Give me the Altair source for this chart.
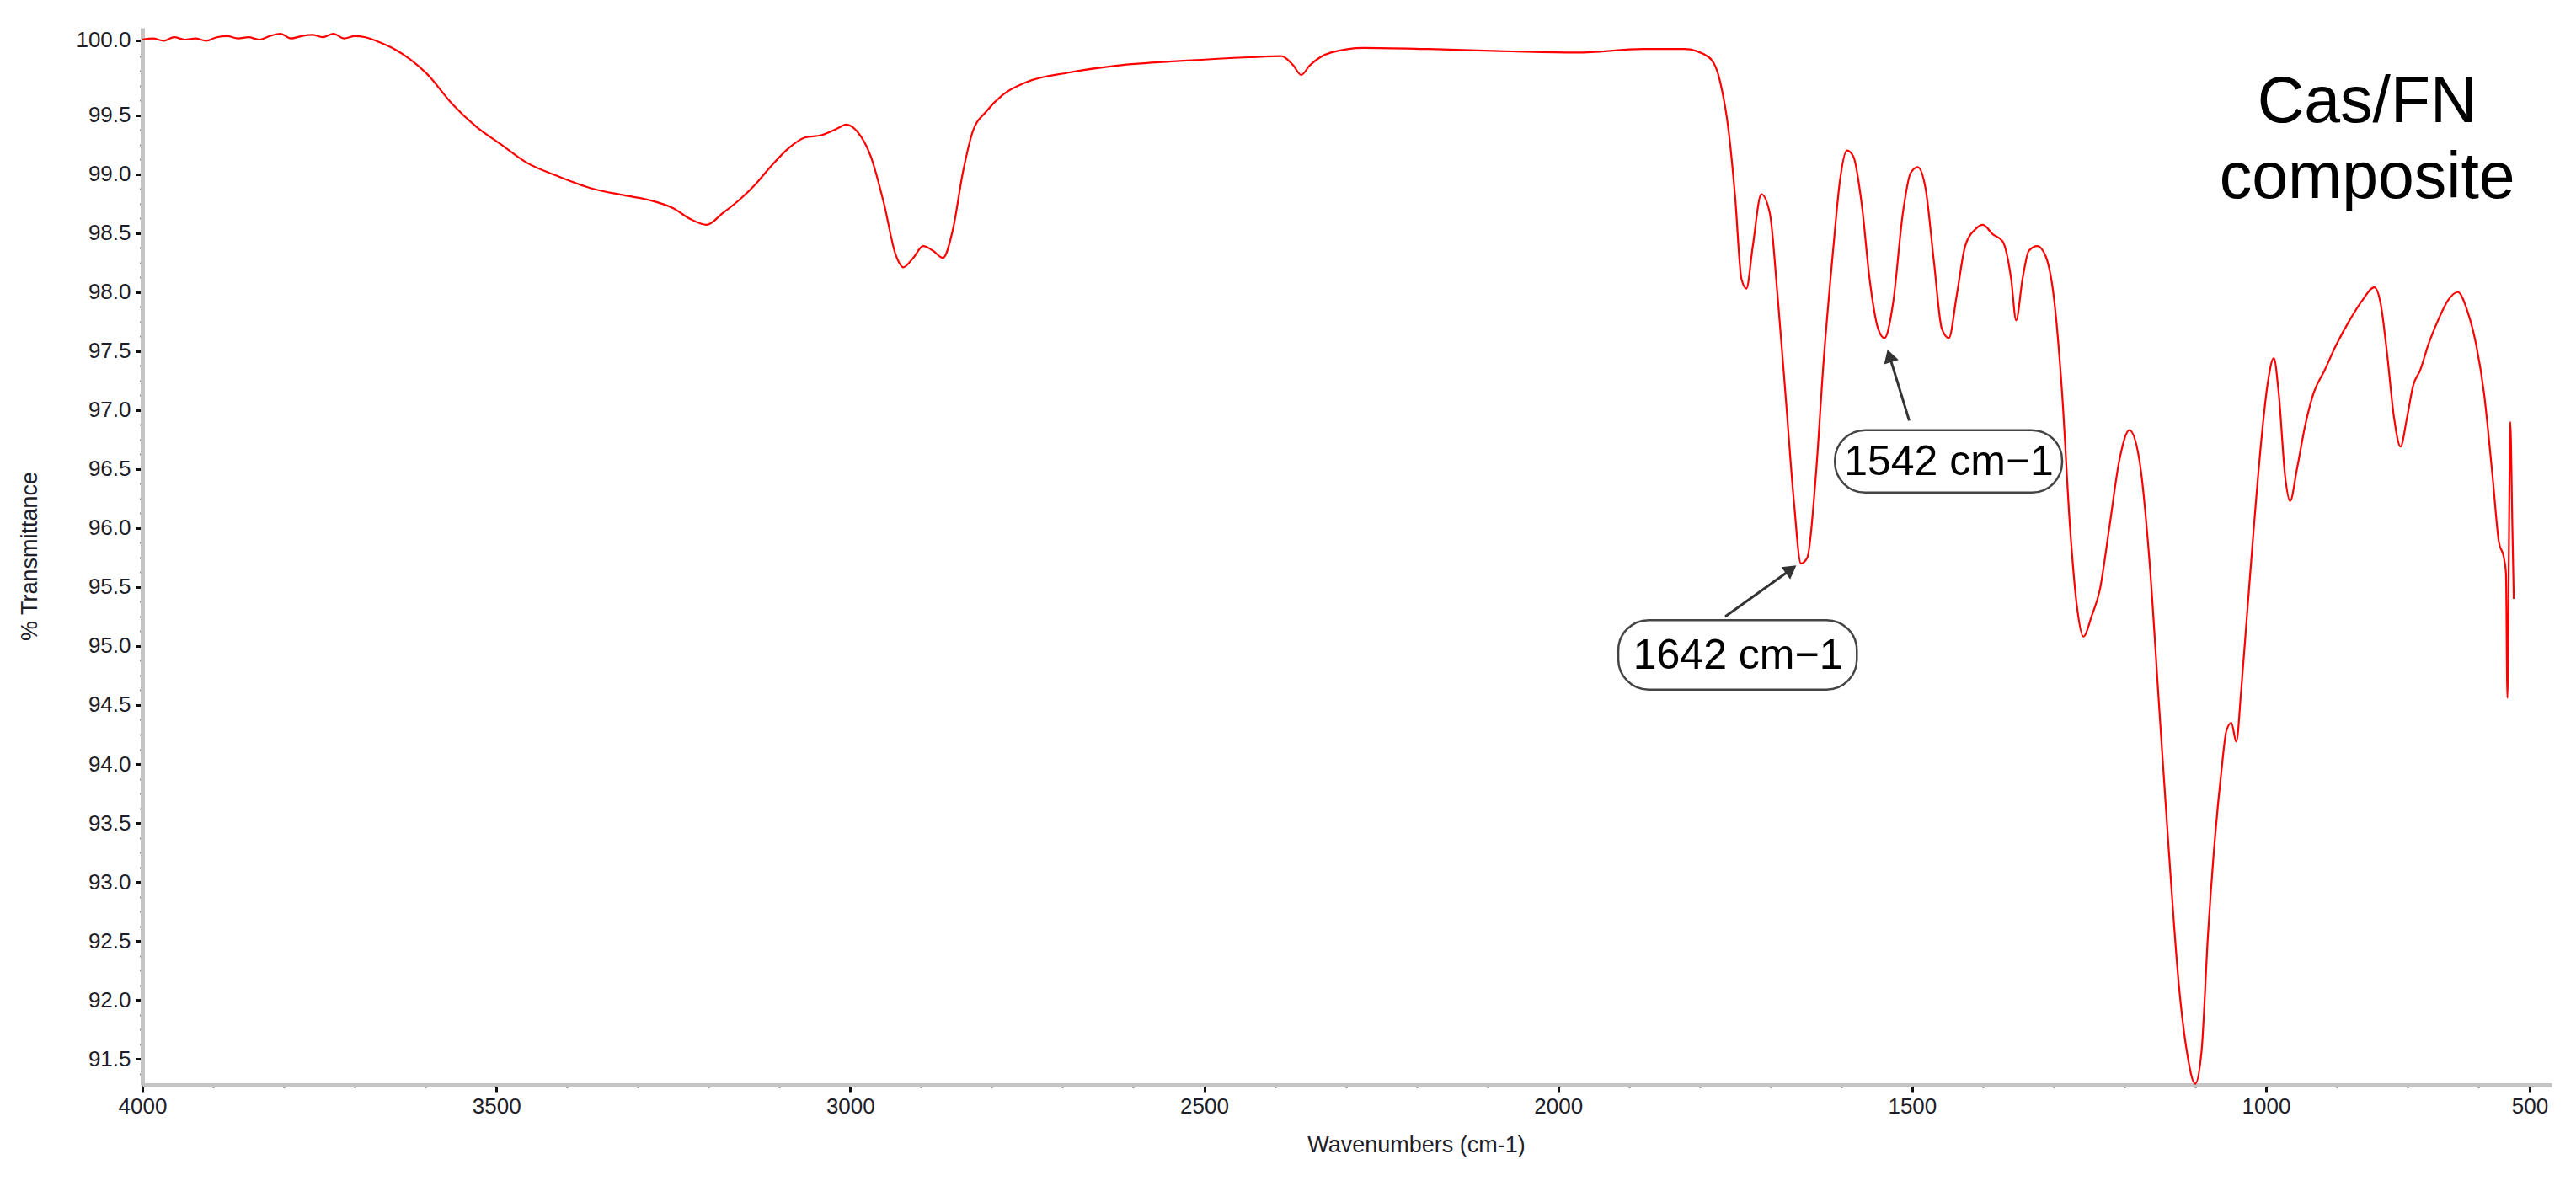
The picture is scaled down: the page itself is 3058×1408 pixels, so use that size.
import altair as alt
import pandas as pd

# ---- spectrum (wavenumber cm-1, % transmittance) ----
wavenumber = [4000, 3985, 3970, 3955, 3940, 3925, 3910, 3895, 3880, 3865, 3850, 3835, 3820, 3805,
              3790, 3775, 3760, 3745, 3730, 3715, 3700, 3685, 3670,
              3644, 3621, 3598, 3563, 3528, 3493, 3458, 3412, 3366, 3319, 3284, 3250, 3226, 3203,
              3180, 3157, 3133, 3110, 3087, 3064, 3041, 3017, 3006, 2990, 2971, 2952, 2936, 2925,
              2911, 2897, 2883, 2869, 2855, 2841, 2827, 2808, 2785, 2751, 2692, 2623, 2530, 2437,
              2391, 2374, 2363, 2351, 2321, 2275, 2182, 2066, 1973, 1880, 1822, 1787, 1771, 1759,
              1750, 1741, 1734, 1725, 1713, 1701, 1690, 1678, 1667, 1657, 1648, 1636, 1625, 1611,
              1602, 1592, 1583, 1571, 1560, 1548, 1539, 1527, 1513, 1502, 1492, 1481, 1469, 1458,
              1448, 1437, 1425, 1411, 1400, 1386, 1372, 1360, 1353, 1344, 1335, 1323, 1311, 1300,
              1288, 1277, 1267, 1258, 1246, 1235, 1221, 1207, 1193, 1179, 1165, 1151, 1137, 1123,
              1112, 1100, 1091, 1082, 1072, 1063, 1056, 1049, 1042, 1035, 1026, 1017, 1007, 998,
              989, 982, 973, 966, 956, 945, 933, 917, 901, 882, 864, 847, 838, 829, 819, 810,
              801, 792, 782, 771, 757, 743, 729, 715, 703, 692, 680, 671, 664, 661, 659, 657,
              655, 652, 650]
transmittance = [100.14, 100.15, 100.13, 100.16, 100.14, 100.15, 100.13, 100.16, 100.17, 100.15, 100.16, 100.14, 100.17, 100.19,
                 100.15, 100.17, 100.18, 100.16, 100.19, 100.15, 100.17, 100.16, 100.13,
                 100.06, 99.97, 99.85, 99.60, 99.40, 99.25, 99.10, 98.98, 98.88, 98.82, 98.78, 98.71, 98.62, 98.57,
                 98.67, 98.78, 98.92, 99.08, 99.22, 99.31, 99.33, 99.39, 99.42, 99.36, 99.15, 98.74, 98.32, 98.21,
                 98.29, 98.39, 98.35, 98.29, 98.53, 99.01, 99.36, 99.53, 99.67, 99.78, 99.86, 99.92, 99.96, 99.99,
                 100.00, 99.92, 99.84, 99.92, 100.03, 100.07, 100.06, 100.04, 100.03, 100.06, 100.06, 99.99, 99.78, 99.36,
                 98.81, 98.11, 98.03, 98.39, 98.83, 98.67, 97.97, 97.07, 96.23, 95.70, 95.75, 96.44, 97.41, 98.39,
                 98.94, 99.20, 99.15, 98.74, 98.11, 97.69, 97.61, 97.90, 98.67, 99.01, 99.06, 98.88, 98.25, 97.69,
                 97.61, 97.97, 98.39, 98.53, 98.57, 98.49, 98.43, 98.11, 97.76, 98.11, 98.35, 98.39, 98.30, 97.97,
                 97.14, 96.02, 95.33, 95.08, 95.26, 95.47, 96.02, 96.58, 96.83, 96.58, 95.75, 94.49, 93.24, 92.12,
                 91.57, 91.29, 91.57, 92.55, 93.38, 93.94, 94.28, 94.35, 94.19, 94.63, 95.33, 96.02, 96.72, 97.21,
                 97.44, 97.14, 96.44, 96.23, 96.51, 96.86, 97.14, 97.34, 97.55, 97.76, 97.93, 98.04, 97.90, 97.48, 96.93, 96.69,
                 96.93, 97.21, 97.34, 97.55, 97.76, 97.93, 98.00, 97.83, 97.55, 97.14, 96.44, 95.88, 95.75, 95.61, 94.56, 95.75,
                 96.90, 96.02, 95.40]

# ---- axis ticks ----
x_end_value = 627.5          # right end tick, labelled "500" in the original
x_minor = [v for v in range(4000, 650, -100)]
y_top_value = 100.135        # top end tick, labelled "100.0" in the original
y_minor = [91.375 + 0.125 * i for i in range(70)]

X_DOMAIN = [596.6, 4000]
Y_DOMAIN = [91.28, 100.24]

# ---- annotations ----
ann_text = ["1642 cm\u22121", "1542 cm\u22121"]
ann_x = [1746, 1448]
ann_y = [94.93, 96.57]
box_x1 = [1915, 1609]
box_x2 = [1578, 1288]
box_y1 = [95.22, 96.83]
box_y2 = [94.63, 96.30]
arrow_tail_x = [1764, 1504]
arrow_tail_y = [95.25, 96.91]
arrow_head_x = [1671, 1532]
arrow_head_y = [95.65, 97.46]
arrow_angle = [54, 343]

title_lines = ["Cas/FN", "composite"]
title_x = [857, 857]
title_y = [99.44, 98.80]

spec = pd.DataFrame({"x": wavenumber, "y": transmittance})
ann = pd.DataFrame({"label": ann_text, "x": ann_x, "y": ann_y,
                    "bx1": box_x1, "bx2": box_x2, "by1": box_y1, "by2": box_y2,
                    "tx": arrow_tail_x, "ty": arrow_tail_y, "hx": arrow_head_x, "hy": arrow_head_y,
                    "ang": arrow_angle})
ttl = pd.DataFrame({"t": title_lines, "x": title_x, "y": title_y})

xs = alt.Scale(domain=X_DOMAIN, reverse=True, zero=False, nice=False)
ys = alt.Scale(domain=Y_DOMAIN, zero=False, nice=False)

is_major_x = "datum.value % 500 == 0 || datum.value < 650"
is_major_y = "(datum.value * 2 == floor(datum.value * 2) && datum.value < 99.9) || datum.value > 100.05"

x_axis = alt.Axis(
    values=x_minor + [x_end_value],
    labelExpr="datum.value < 650 ? '500' : (datum.value % 500 == 0 ? format(datum.value, 'd') : '')",
    title="Wavenumbers (cm-1)", titleX=1512, titleY=71, titleAlign="center", titleBaseline="middle",
    tickSize={"condition": {"test": is_major_x, "value": 8}, "value": 3},
    tickWidth={"condition": {"test": is_major_x, "value": 3}, "value": 2},
    labelPadding=4, grid=False, labelOverlap=False, labelFlush=False, labelBound=False,
)
y_axis = alt.Axis(
    values=y_minor + [y_top_value],
    labelExpr="datum.value > 100.05 ? '100.0' : ((datum.value * 2 == floor(datum.value * 2) && datum.value < 99.9) ? format(datum.value, '.1f') : '')",
    title="% Transmittance", titleX=-134, titleY=627, titleAngle=-90, titleAlign="center", titleBaseline="middle",
    tickSize={"condition": {"test": is_major_y, "value": 8}, "value": 3},
    tickWidth={"condition": {"test": is_major_y, "value": 3}, "value": 2},
    labelPadding=6, grid=False, labelOverlap=False, labelFlush=False, labelBound=False,
)

line = alt.Chart(spec).mark_line(color="#ff0000", strokeWidth=2.2, interpolate="monotone").encode(
    x=alt.X("x:Q", scale=xs, axis=x_axis),
    y=alt.Y("y:Q", scale=ys, axis=y_axis),
)

arrows = alt.Chart(ann).mark_rule(color="#333333", strokeWidth=3).encode(
    x=alt.X("tx:Q", scale=xs, axis=x_axis), x2="hx:Q",
    y=alt.Y("ty:Q", scale=ys, axis=y_axis), y2="hy:Q",
)
heads = alt.Chart(ann).mark_point(shape="triangle-up", filled=True, color="#333333", size=320, opacity=1).encode(
    x=alt.X("hx:Q", scale=xs, axis=x_axis),
    y=alt.Y("hy:Q", scale=ys, axis=y_axis),
    angle=alt.Angle("ang:Q", scale=None),
)
boxes = alt.Chart(ann).mark_rect(fill="white", stroke="#444444", strokeWidth=2.5, cornerRadius=36).encode(
    x=alt.X("bx1:Q", scale=xs, axis=x_axis), x2="bx2:Q",
    y=alt.Y("by1:Q", scale=ys, axis=y_axis), y2="by2:Q",
)
labels = alt.Chart(ann).mark_text(font="Liberation Sans", fontSize=50, color="black",
                                  align="center", baseline="middle", dy=2).encode(
    x=alt.X("x:Q", scale=xs, axis=x_axis),
    y=alt.Y("y:Q", scale=ys, axis=y_axis),
    text="label:N",
)
title = alt.Chart(ttl).mark_text(font="Liberation Sans", fontSize=77, color="black",
                                 align="center", baseline="alphabetic").encode(
    x=alt.X("x:Q", scale=xs, axis=x_axis),
    y=alt.Y("y:Q", scale=ys, axis=y_axis),
    text="t:N",
)

chart = alt.layer(line, arrows, heads, boxes, labels, title).properties(
    width=2860, height=1255,
    autosize=alt.AutoSizeParams(type="none"),
    padding={"left": 161, "top": 25, "right": 21, "bottom": 100},
).configure_view(stroke=None).configure_axis(
    domainColor="#c4c4c4", domainWidth=5, tickColor="#111111",
    labelFont="Liberation Sans", labelFontSize=26, labelColor="#1e1e2a",
    titleFont="Liberation Sans", titleFontSize=27, titleFontWeight="normal", titleColor="#1e1e2a",
)

chart.save("out.html", embed_options={"renderer": "svg", "actions": False})
